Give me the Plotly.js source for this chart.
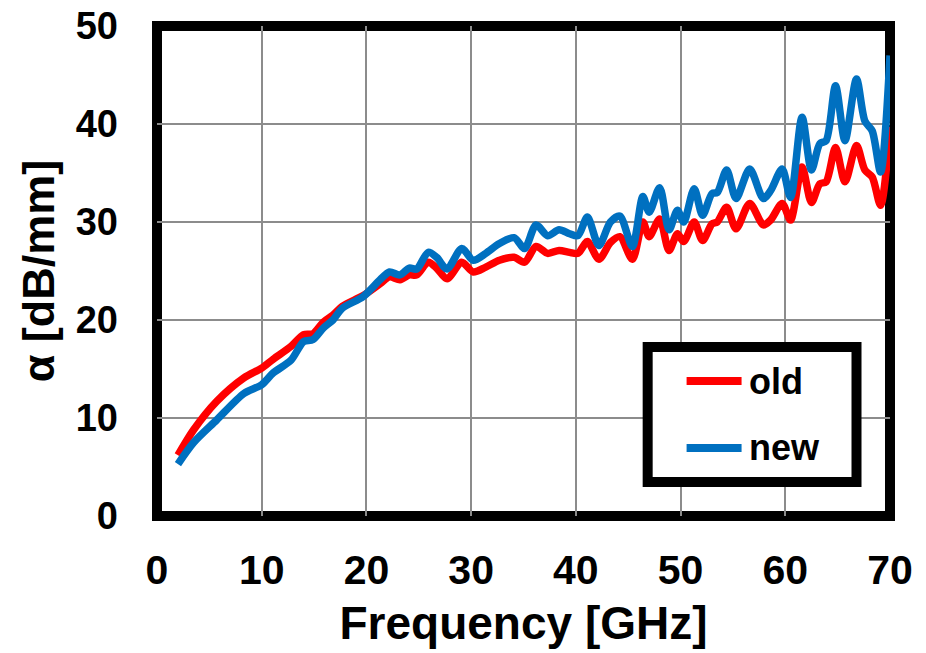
<!DOCTYPE html>
<html>
<head>
<meta charset="utf-8">
<script src="https://cdn.plot.ly/plotly-3.0.1.min.js"></script>
<style>html,body{margin:0;padding:0;background:#fff;}#chart{width:926px;height:653px;}</style>
</head>
<body>
<div id="chart"></div>
<script>
// Frequency points (GHz)
const freq = [2.0, 3.5, 5.7, 8.3, 10.0, 11.1, 12.8, 14.0, 14.9, 15.9, 16.8, 17.7, 19.7, 21.3, 22.2, 23.2, 24.1, 24.8,
  25.9, 26.7, 27.7, 29.1, 30.2, 31.4, 32.7, 34.1, 35.1, 36.2, 37.3, 38.4, 39.4, 40.2, 41.1, 42.2, 43.3, 44.2,
  45.4, 46.4, 47.0, 48.0, 48.9, 49.7, 50.3, 51.3, 52.1, 53.0, 53.5, 54.4, 55.3, 56.6, 57.9, 58.6, 59.7, 60.5,
  61.6, 62.5, 63.3, 63.9, 64.8, 65.7, 66.8, 67.6, 68.3, 69.1, 70.0];
// Attenuation alpha (dB/mm), "old"
const oldAlpha = [6.2, 8.8, 11.7, 14.1, 15.1, 16.0, 17.3, 18.5, 18.6, 19.8, 20.5, 21.4, 22.5, 23.7, 24.4, 24.1, 24.6, 24.6,
  25.9, 25.3, 24.2, 25.9, 24.9, 25.4, 26.1, 26.4, 25.9, 27.5, 26.8, 27.1, 26.9, 26.8, 28.0, 26.2, 27.9, 28.5,
  26.2, 30.0, 28.5, 30.3, 27.1, 28.8, 28.0, 30.0, 28.1, 29.8, 30.0, 31.5, 29.3, 31.9, 29.7, 30.2, 31.9, 30.2,
  35.6, 32.0, 33.9, 34.1, 37.6, 34.1, 37.8, 35.3, 34.6, 31.7, 39.7];
// Attenuation alpha (dB/mm), "new"
const newAlpha = [5.3, 7.5, 9.8, 12.5, 13.4, 14.6, 15.9, 17.8, 18.0, 19.2, 20.0, 21.2, 22.4, 24.1, 24.9, 24.6, 25.3, 25.2,
  26.9, 26.4, 25.2, 27.3, 26.1, 26.8, 27.8, 28.4, 27.3, 29.7, 28.6, 29.2, 28.8, 28.6, 30.5, 27.6, 30.0, 30.6,
  27.5, 32.6, 31.0, 33.5, 29.2, 31.2, 30.0, 33.4, 30.7, 32.9, 33.0, 35.3, 32.4, 35.4, 32.4, 33.2, 35.4, 32.5,
  40.7, 35.3, 38.0, 38.3, 43.9, 38.3, 44.6, 40.3, 39.3, 35.1, 47.0];
const seriesNames = ['old', 'new'];
const seriesColors = ['#FF0000', '#0070C0'];
const xTicks = [0, 10, 20, 30, 40, 50, 60, 70];
const yTicks = [0, 10, 20, 30, 40, 50];

const FONT = 'Liberation Sans, Arial, Helvetica, sans-serif';

const traces = [oldAlpha, newAlpha].map((vals, i) => ({
  x: freq, y: vals, type: 'scatter', mode: 'lines', name: seriesNames[i],
  line: {color: seriesColors[i], width: 7.5, shape: 'spline', smoothing: 0.8},
  showlegend: false, hoverinfo: 'skip'
}));

// Manual legend (paper coordinates)
const legBox = {x0: 0.6694, x1: 0.9543, y0: 0.0694, y1: 0.3449};
const legRowsY = [0.2755, 0.1388];
const shapes = [
  {type: 'rect', xref: 'paper', yref: 'paper', x0: 0, x1: 1, y0: 0, y1: 1,
   line: {color: '#000', width: 10}, layer: 'between'},
  {type: 'rect', xref: 'paper', yref: 'paper', x0: legBox.x0, x1: legBox.x1, y0: legBox.y0, y1: legBox.y1,
   fillcolor: '#fff', line: {color: '#000', width: 10}, layer: 'above'}
];
const annotations = [];
seriesNames.forEach((nm, i) => {
  shapes.push({type: 'line', xref: 'paper', yref: 'paper', x0: 0.7225, x1: 0.7975,
    y0: legRowsY[i], y1: legRowsY[i], line: {color: seriesColors[i], width: 8}, layer: 'above'});
  annotations.push({xref: 'paper', yref: 'paper', x: 0.8044, y: legRowsY[i], xanchor: 'left', yanchor: 'middle',
    text: nm, showarrow: false, font: {family: FONT, size: 36, color: '#000', weight: 'bold'}});
});

const layout = {
  width: 926, height: 653,
  margin: {l: 157, r: 35.5, t: 26, b: 137, pad: 0},
  paper_bgcolor: '#fff', plot_bgcolor: '#fff',
  font: {family: FONT, color: '#000', weight: 'bold'},
  xaxis: {
    range: [0, 70], tickvals: xTicks, ticktext: xTicks.map(String),
    showgrid: true, gridcolor: '#8c8c8c', gridwidth: 2, zeroline: false, showline: false,
    ticks: '', ticklabelstandoff: 26,
    tickfont: {family: FONT, size: 41, color: '#000', weight: 'bold'},
    title: {text: 'Frequency [GHz]', standoff: 14, font: {family: FONT, size: 46, color: '#000', weight: 'bold'}},
    automargin: false, fixedrange: true
  },
  yaxis: {
    range: [0, 50], tickvals: yTicks, ticktext: yTicks.map(String),
    showgrid: true, gridcolor: '#8c8c8c', gridwidth: 2, zeroline: false, showline: false,
    ticks: '', ticklabelstandoff: 38,
    tickfont: {family: FONT, size: 38, color: '#000', weight: 'bold'},
    title: {text: 'α [dB/mm]', standoff: 6, font: {family: FONT, size: 45, color: '#000', weight: 'bold'}},
    automargin: false, fixedrange: true
  },
  shapes: shapes,
  annotations: annotations,
  showlegend: false
};

Plotly.newPlot('chart', traces, layout, {displayModeBar: false, staticPlot: true});
</script>
</body>
</html>
